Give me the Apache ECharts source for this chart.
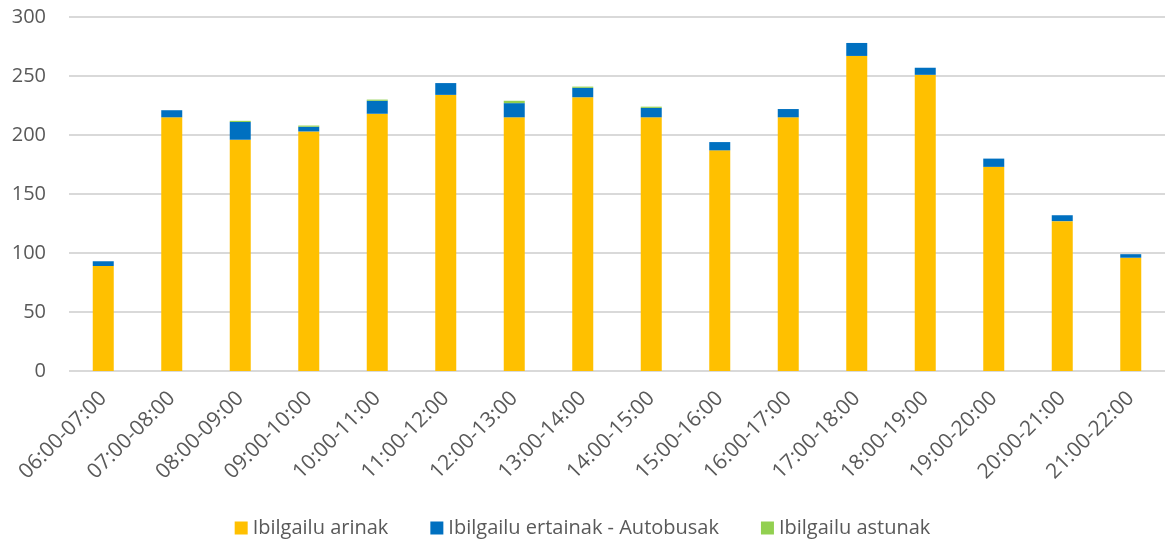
<!DOCTYPE html>
<html>
<head>
<meta charset="utf-8">
<script src="https://cdn.jsdelivr.net/npm/echarts@6/dist/echarts.min.js"></script>
<style>
  html, body { margin: 0; padding: 0; background: #fff; }
  #chart { width: 1165px; height: 547px; }
</style>
</head>
<body>
<div id="chart"></div>
<script>
const hours = [
  "06:00-07:00", "07:00-08:00", "08:00-09:00", "09:00-10:00",
  "10:00-11:00", "11:00-12:00", "12:00-13:00", "13:00-14:00",
  "14:00-15:00", "15:00-16:00", "16:00-17:00", "17:00-18:00",
  "18:00-19:00", "19:00-20:00", "20:00-21:00", "21:00-22:00"
];
const arinak = [89, 215, 196, 203, 218, 234, 215, 232, 215, 187, 215, 267, 251, 173, 127, 96];
const ertainak = [4, 6, 15, 4, 11, 10, 12, 8, 8, 7, 7, 11, 6, 7, 5, 3];
const astunak = [0, 0, 1, 1, 1, 0, 2, 1, 1, 0, 0, 0, 0, 0, 0, 0];

const font = "'Open Sans', 'Liberation Sans', sans-serif";
const txt = "#595959";

let myChart = echarts.init(document.getElementById("chart"));
myChart.setOption({
  animation: false,
  textStyle: { fontFamily: font },
  grid: { left: 69, right: 0, top: 17, bottom: 176 },
  legend: {
    bottom: 4,
    left: "center",
    itemWidth: 13,
    itemHeight: 13,
    itemGap: 42,
    icon: "rect",
    textStyle: { color: txt, fontSize: 20, fontFamily: font },
    data: ["Ibilgailu arinak", "Ibilgailu ertainak - Autobusak", "Ibilgailu astunak"]
  },
  xAxis: {
    type: "category",
    data: hours,
    axisLine: { show: false },
    axisTick: { show: false },
    axisLabel: { rotate: 45, color: txt, fontSize: 21, margin: 24, interval: 0 }
  },
  yAxis: {
    type: "value",
    min: 0,
    max: 300,
    interval: 50,
    axisLine: { show: false },
    axisTick: { show: false },
    axisLabel: { color: txt, fontSize: 20, margin: 23 },
    splitLine: { lineStyle: { color: "#d9d9d9", width: 2 } }
  },
  series: [
    {
      name: "Ibilgailu arinak",
      type: "bar",
      stack: "total",
      barWidth: 21,
      itemStyle: { color: "#ffc000" },
      data: arinak
    },
    {
      name: "Ibilgailu ertainak - Autobusak",
      type: "bar",
      stack: "total",
      barWidth: 21,
      itemStyle: { color: "#0070c0" },
      data: ertainak
    },
    {
      name: "Ibilgailu astunak",
      type: "bar",
      stack: "total",
      barWidth: 21,
      itemStyle: { color: "#92d050" },
      data: astunak
    }
  ]
});
</script>
</body>
</html>
